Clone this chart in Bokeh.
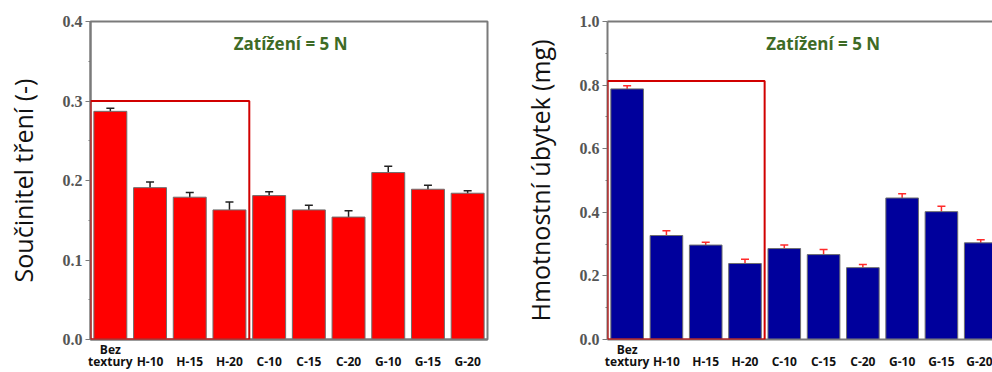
from bokeh.plotting import figure
from bokeh.layouts import row
from bokeh.models import (ColumnDataSource, Whisker, Range1d, FixedTicker, Label,
                          LinearAxis, BoxAnnotation, NumeralTickFormatter)
from bokeh.embed import file_html
from bokeh.resources import INLINE

categories = ["Bez textury", "H-10", "H-15", "H-20", "C-10", "C-15", "C-20", "G-10", "G-15", "G-20"]
friction = [0.287, 0.191, 0.179, 0.163, 0.181, 0.163, 0.154, 0.210, 0.189, 0.184]
friction_err = [0.004, 0.007, 0.006, 0.010, 0.005, 0.006, 0.008, 0.008, 0.005, 0.003]
mass_loss = [0.788, 0.327, 0.297, 0.239, 0.286, 0.267, 0.226, 0.445, 0.402, 0.304]
mass_err = [0.010, 0.015, 0.009, 0.013, 0.011, 0.016, 0.010, 0.013, 0.017, 0.010]
title_text = "Zatížení = 5 N"
highlight_n = 4  # first four samples boxed
box_top_left = 0.3
box_top_right = 0.813

xs = [i + 0.5 for i in range(len(categories))]
# two-line first label: first word on upper row, rest on lower row with the others
upper_labels = {xs[0]: categories[0].split(" ")[0]}
lower_labels = {x: (c.split(" ")[1] if " " in c else c) for x, c in zip(xs, categories)}

GRAY = "#7a7a7a"
GREEN = "#3e6b26"


def style_xaxis(ax):
    ax.major_label_text_font = "Open Sans"
    ax.major_label_text_font_style = "bold"
    ax.major_label_text_font_size = "12px"
    ax.major_label_text_color = "#111111"
    ax.major_tick_line_color = None
    ax.minor_tick_line_color = None
    ax.major_tick_out = 0
    ax.major_tick_in = 0


def make_panel(vals, errs, fill, err_color, ylabel, yend, major, width,
               mbl, mbr, xend, title_x, box_top, show_right):
    p = figure(width=width, height=372, output_backend="svg", toolbar_location=None,
               x_range=Range1d(0, xend), y_range=Range1d(0, yend),
               min_border_left=mbl, min_border_right=mbr, min_border_top=21,
               min_border_bottom=31)
    src = ColumnDataSource(dict(x=xs, top=vals, up=[v + e for v, e in zip(vals, errs)],
                                lo=[v - e for v, e in zip(vals, errs)]))
    p.vbar(x="x", top="top", width=0.83, source=src, fill_color=fill,
           line_color="#6f6f6f", line_width=1)
    w = Whisker(source=src, base="x", upper="up", lower="lo", line_color=err_color,
                line_width=1.5)
    for h in (w.upper_head, w.lower_head):
        h.line_color = err_color
        h.size = 8
        h.line_width = 1.5
    p.add_layout(w)
    p.add_layout(BoxAnnotation(left=0, right=highlight_n, bottom=0, top=box_top,
                               fill_alpha=0, line_color="#d10000", line_alpha=1.0,
                               line_width=2))
    p.add_layout(Label(x=title_x, y=yend * 0.93, text=title_text, text_color=GREEN,
                       text_font="Open Sans", text_font_style="bold",
                       text_font_size="17px", text_align="center",
                       text_baseline="middle"))
    p.grid.visible = False
    p.outline_line_color = GRAY if show_right else None
    p.outline_line_width = 2

    # y axis
    ya = p.yaxis[0]
    step = major[1] - major[0]
    ya.ticker = FixedTicker(ticks=major,
                            minor_ticks=[m + step / 2 for m in major[:-1]])
    ya.formatter = NumeralTickFormatter(format="0.0")
    ya.axis_label = ylabel
    ya.axis_label_text_font = "Open Sans"
    ya.axis_label_text_font_style = "normal"
    ya.axis_label_text_font_size = "25px"
    ya.axis_label_text_color = "#111111"
    ya.axis_label_standoff = 20
    ya.major_label_text_font = "Liberation Serif"
    ya.major_label_text_font_style = "bold"
    ya.major_label_text_font_size = "16px"
    ya.major_label_text_color = "#555555"
    ya.axis_line_color = GRAY
    ya.axis_line_width = 2
    ya.major_tick_line_color = GRAY
    ya.major_tick_out = 5
    ya.major_tick_in = 0
    ya.minor_tick_line_color = GRAY
    ya.minor_tick_out = 2
    ya.minor_tick_in = 0
    ya.major_label_standoff = 3

    xa = p.below[0]
    xa.ticker = FixedTicker(ticks=list(upper_labels.keys()))
    xa.major_label_overrides = upper_labels
    style_xaxis(xa)
    xa.major_label_standoff = 1
    xa.axis_line_color = GRAY
    xa.axis_line_width = 2

    xb = LinearAxis(ticker=FixedTicker(ticks=xs), major_label_overrides=lower_labels,
                    axis_line_color=None)
    style_xaxis(xb)
    xb.major_label_standoff = -8
    p.add_layout(xb, "below")

    if not show_right:
        top_ax = LinearAxis(ticker=FixedTicker(ticks=[]), axis_line_color=GRAY,
                            axis_line_width=2, major_tick_line_color=None,
                            minor_tick_line_color=None, major_label_standoff=0)
        p.add_layout(top_ax, "above")
    return p


p1 = make_panel(friction, friction_err, "#ff0000", "#222222", "Součinitel tření (-)",
                0.4, [0.0, 0.1, 0.2, 0.3, 0.4], 500, 90, 13, 10, 5.04, box_top_left, True)

p2 = make_panel(mass_loss, mass_err, "#00009c", "#ff2a2a", "Hmotnostní úbytek (mg)",
                1.0, [0.0, 0.2, 0.4, 0.6, 0.8, 1.0], 492, 107, 0, 9.8, 5.49,
                box_top_right, False)

layout = row(p1, p2)
open("out.html", "w").write(file_html(layout, INLINE))
